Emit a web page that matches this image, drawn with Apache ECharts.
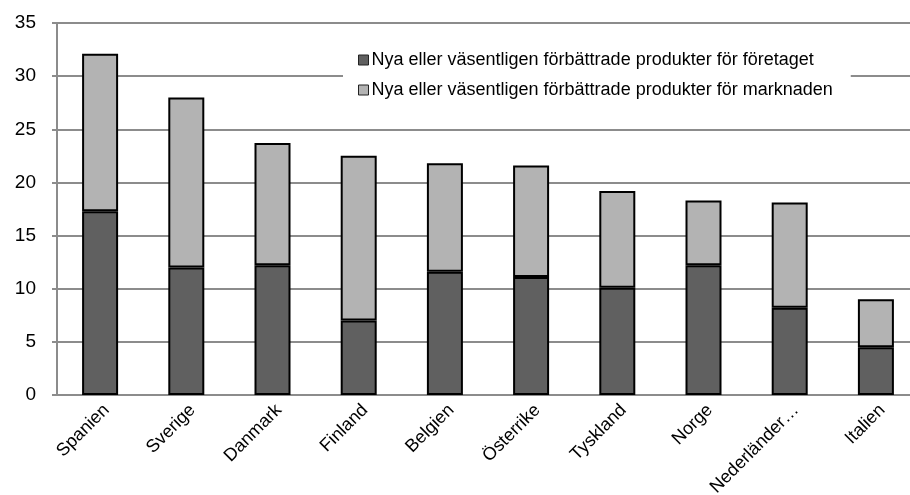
<!DOCTYPE html>
<html>
<head>
<meta charset="utf-8">
<script src="https://cdn.jsdelivr.net/npm/echarts@6/dist/echarts.min.js"></script>
<style>
  html, body { margin: 0; padding: 0; background: #fff; }
  #chart { width: 910px; height: 495px; }
</style>
</head>
<body>
<div id="chart"></div>
<script>
// kategorier och värden
const countries = ['Spanien', 'Sverige', 'Danmark', 'Finland', 'Belgien', 'Österrike', 'Tyskland', 'Norge', 'Nederländer…', 'Italien']
const foretaget = [17.3, 12.0, 12.2, 7.0, 11.6, 11.1, 10.1, 12.2, 8.2, 4.5]
const marknaden = [14.8, 16.0, 11.5, 15.5, 10.2, 10.5, 9.1, 6.1, 9.9, 4.5]
const seriesNames = [
  'Nya eller väsentligen förbättrade produkter för företaget',
  'Nya eller väsentligen förbättrade produkter för marknaden'
]

const chart = echarts.init(document.getElementById('chart'))

const barStyle = (color) => ({
  color: color,
  borderColor: '#000',
  borderWidth: 2
})

chart.setOption({
  animation: false,
  textStyle: { fontFamily: 'Liberation Sans, Arial, sans-serif' },
  // plottytan fortsätter en bit utanför bildens högerkant
  grid: { left: 57, right: -9, top: 23, bottom: 100, outerBoundsMode: 'none' },
  legend: {
    orient: 'vertical',
    left: 343,
    top: 44,
    backgroundColor: '#fff',
    padding: [7, 18, 7, 15],
    icon: 'rect',
    itemWidth: 10,
    itemHeight: 10,
    itemGap: 12,
    textStyle: { fontSize: 18, color: '#000', padding: [0, 0, 0, -2] },
    data: seriesNames.map(n => ({ name: n, itemStyle: { borderColor: '#222', borderWidth: 1 } }))
  },
  xAxis: {
    type: 'category',
    data: countries,
    axisLine: { lineStyle: { color: '#8c8c8c', width: 2 } },
    axisTick: { show: false },
    axisLabel: { rotate: 45, fontSize: 18, color: '#000', margin: 6, interval: 0, verticalAlign: 'top' }
  },
  yAxis: {
    type: 'value',
    min: 0,
    max: 35,
    interval: 5,
    axisLine: { show: true, lineStyle: { color: '#8c8c8c', width: 2 } },
    axisTick: { show: true, length: 5, lineStyle: { color: '#8c8c8c', width: 2 } },
    axisLabel: { fontSize: 19, color: '#000', margin: 21 },
    splitLine: { lineStyle: { color: '#8c8c8c', width: 2 } }
  },
  series: [
    {
      name: seriesNames[0],
      type: 'bar',
      stack: 'total',
      barWidth: 36,
      data: foretaget,
      itemStyle: barStyle('#606060')
    },
    {
      name: seriesNames[1],
      type: 'bar',
      stack: 'total',
      barWidth: 36,
      data: marknaden,
      itemStyle: barStyle('#b3b3b3')
    }
  ]
})
</script>
</body>
</html>
